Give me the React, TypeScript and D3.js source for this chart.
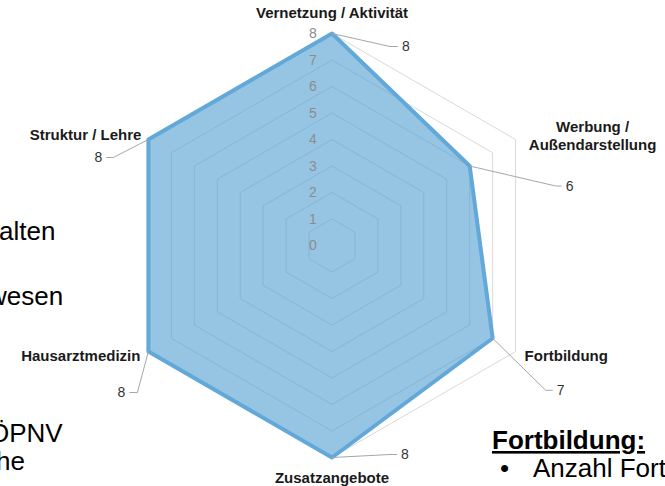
import React from "react";
import { scaleLinear, lineRadial, curveLinearClosed } from "d3";

const categories = [
  "Vernetzung / Aktivität",
  "Werbung / Außendarstellung",
  "Fortbildung",
  "Zusatzangebote",
  "Hausarztmedizin",
  "Struktur / Lehre",
];
const values = [8, 6, 7, 8, 8, 8];
const ticks = [0, 1, 2, 3, 4, 5, 6, 7, 8];

// leftover slide text around the chart
const slideLines = ["alten", "wesen", "ÖPNV", "he"];
const boxTitle = "Fortbildung:";
const boxItem = "Anzahl Fort";

const W = 665;
const H = 486;
const cx = 332;
const cy = 245.5;
const R = 212;

// label placement relative to the outer vertex (category) and data vertex (value)
const catLayout = [
  { dx: 0, dy: -20.5, anchor: "middle" },
  { dx: 77, dy: -12.5, anchor: "middle" },
  { dx: 9, dy: 4, anchor: "start" },
  { dx: 0, dy: 20.5, anchor: "middle" },
  { dx: -8, dy: 4, anchor: "end" },
  { dx: -7, dy: -4.5, anchor: "end" },
];
const valLayout = [
  { elbow: [58, 13], end: [66, 13] },
  { elbow: [86, 20], end: [92, 20] },
  { elbow: [53, 52], end: [60, 52] },
  { elbow: [58, -3], end: [65, -3] },
  { elbow: [-11, 41], end: [-19, 41] },
  { elbow: [-35, 18], end: [-42, 18] },
];

const font = "'Liberation Sans', Arial, sans-serif";

export default function App() {
  const r = scaleLinear().domain([0, 8]).range([0, R]);
  const angle = (i: number) => (i * 2 * Math.PI) / categories.length;
  const pt = (i: number, v: number): [number, number] => [
    cx + r(v) * Math.sin(angle(i)),
    cy - r(v) * Math.cos(angle(i)),
  ];

  const radial = lineRadial<number>()
    .angle((_, i) => angle(i))
    .radius((d) => r(d))
    .curve(curveLinearClosed);

  return (
    <svg
      width={W}
      height={H}
      style={{ position: "absolute", left: 0, top: 0, background: "#fff" }}
      fontFamily={font}
    >
      {/* slide text behind the chart */}
      <g fontSize={26} fill="#000">
        <text x={-1} y={240}>{slideLines[0]}</text>
        <text x={-12} y={305}>{slideLines[1]}</text>
        <text x={-11} y={442}>{slideLines[2]}</text>
        <text x={-4} y={470}>{slideLines[3]}</text>
        <text x={492} y={449} fontWeight="bold" textDecoration="underline">
          {boxTitle}
        </text>
        <text x={500} y={477}>•</text>
        <text x={533} y={477}>{boxItem}</text>
      </g>

      <g transform={`translate(${cx},${cy})`}>
        {ticks.slice(1).map((t) => (
          <path
            key={t}
            d={radial(categories.map(() => t)) ?? ""}
            fill="none"
            stroke="#d9d9d9"
            strokeWidth={1}
          />
        ))}
        <path
          d={radial(values) ?? ""}
          fill="#4a9bd1"
          fillOpacity={0.58}
          stroke="#62a8d8"
          strokeWidth={4}
          strokeLinejoin="round"
        />
        {ticks.map((t) => (
          <text
            key={t}
            x={-19}
            y={-r(t)}
            dy="0.35em"
            textAnchor="middle"
            fontSize={14}
            fill="#8c8c8c"
          >
            {t}
          </text>
        ))}
      </g>

      {/* data labels with leader lines */}
      {values.map((v, i) => {
        const [x, y] = pt(i, v);
        const L = valLayout[i];
        const ex = x + L.end[0];
        const ey = y + L.end[1];
        const right = L.end[0] > 0;
        return (
          <g key={i}>
            <polyline
              points={`${x},${y} ${x + L.elbow[0]},${y + L.elbow[1]} ${ex},${ey}`}
              fill="none"
              stroke="#a6a6a6"
              strokeWidth={1}
            />
            <text
              x={ex + (right ? 4 : -4)}
              y={ey}
              dy="0.35em"
              textAnchor={right ? "start" : "end"}
              fontSize={14}
              fill="#333"
            >
              {v}
            </text>
          </g>
        );
      })}

      {/* category labels */}
      {categories.map((c, i) => {
        const [x, y] = pt(i, 8);
        const L = catLayout[i];
        const lines = i === 1 ? ["Werbung /", "Außendarstellung"] : [c];
        return (
          <text
            key={i}
            x={x + L.dx}
            y={y + L.dy}
            textAnchor={L.anchor as any}
            fontSize={15}
            fontWeight="bold"
            fill="#1a1a1a"
          >
            {lines.map((s, k) => (
              <tspan key={k} x={x + L.dx} dy={k === 0 ? "0.35em" : 18}>
                {s}
              </tspan>
            ))}
          </text>
        );
      })}
    </svg>
  );
}
